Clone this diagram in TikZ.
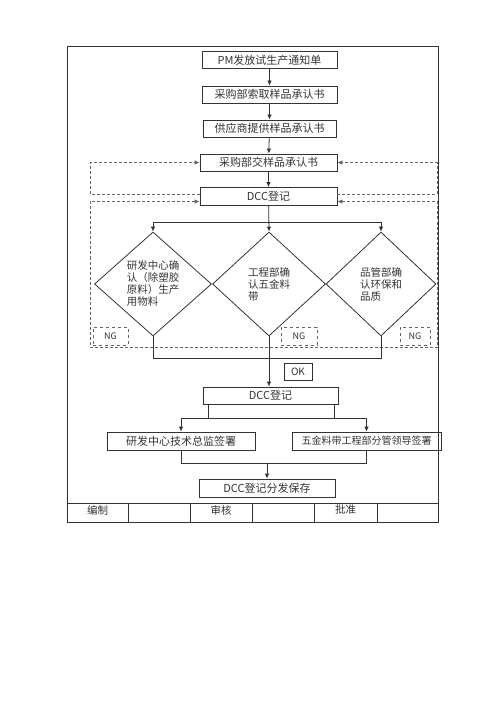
\documentclass[tikz,border=0pt]{standalone}
\usepackage{fontspec}
\setmainfont{Noto Sans CJK SC}
\usepackage{tikz}
\usetikzlibrary{shapes, arrows, arrows.meta, positioning, calc}
\tikzstyle{box} = [rectangle, draw=black!80, line width=0.8pt, minimum width=135pt, minimum height=17pt, inner sep=0pt, font=\fontsize{11}{13}\selectfont, text=black!80]
\tikzstyle{check} = [diamond, draw=black!80, line width=0.8pt, minimum width=117pt, minimum height=104pt, inner sep=0pt, align=left, font=\fontsize{10.5}{12}\selectfont, text=black!80]
\tikzstyle{ng} = [rectangle, draw=black!60, dashed, line width=0.8pt, minimum height=18pt, inner sep=0pt, font=\fontsize{9}{11}\selectfont, text=black!80]
\tikzstyle{arrow} = [draw=black!80, -{Latex[length=5pt, width=4.5pt]}, line width=0.8pt]
\tikzstyle{line} = [draw=black!80, line width=0.8pt]
\tikzstyle{loop} = [draw=black!60, dash pattern=on 3pt off 2pt, line width=0.8pt, >={Latex[length=5pt, width=4.5pt]}]

\begin{document}
\begin{tikzpicture}[x=1pt, y=-1pt]
    \useasboundingbox (0,0) rectangle (500,708);
    % frame and sign-off row
    \draw[line] (67,46) rectangle (438,522);
    \draw[line] (67,503) -- (438,503);
    \foreach \x in {128,190,252,314,377}
        \draw[line] (\x,503) -- (\x,522);
    \node (bianzhi) at (97.5,510) [font=\fontsize{10.5}{12}\selectfont, text=black!80] {编制};
    \node (shenhe) at (221,510) [font=\fontsize{10.5}{12}\selectfont, text=black!80] {审核};
    \node (pizhun) at (345.5,510) [font=\fontsize{10.5}{12}\selectfont, text=black!80] {批准};

    % main chain
    \node (pm) [box] at (269.5,60) {PM发放试生产通知单};
    \node (suoqu) [box] at (269.5,94.5) {采购部索取样品承认书};
    \node (gongying) [box, minimum width=133pt] at (269.5,128.5) {供应商提供样品承认书};
    \node (jiaoyang) [box, minimum width=137pt] at (268.5,162.5) {采购部交样品承认书};
    \node (dcc1) [box, minimum width=137pt, minimum height=18pt] at (268.5,196.5) {DCC登记};

    \draw [arrow] (pm) -- (suoqu);
    \draw [arrow] (suoqu) -- (gongying);
    \draw [arrow] (gongying) -- (jiaoyang);
    \draw [arrow] (jiaoyang) -- (dcc1);

    % three checks
    \node (rd) [check] at (153,284) {研发中心确\\认（除塑胶\\原料）生产\\用物料};
    \node (eng) [check, minimum width=113pt] at (269,284) {工程部确\\认五金料\\带};
    \node (qc) [check, minimum width=110pt] at (381,284) {品管部确\\认环保和\\品质};

    \coordinate (splitA) at (0,222);
    \draw [line] (rd.north |- splitA) -- (qc.north |- splitA);
    \draw [arrow] (rd.north |- splitA) -- (rd.north);
    \draw [arrow] (dcc1) -- (eng.north);
    \draw [arrow] (qc.north |- splitA) -- (qc.north);

    % NG loops
    \coordinate (loopL) at (90,0);
    \coordinate (loopR) at (437,0);
    \coordinate (loopB) at (0,347);
    \draw [loop, ->] ([yshift=2.5pt]dcc1.west) -- ([yshift=2.5pt]dcc1.west -| loopL) -- (jiaoyang.west -| loopL) -- (jiaoyang.west);
    \draw [loop, ->] ([yshift=2.5pt]dcc1.east) -- ([yshift=2.5pt]dcc1.east -| loopR) -- (jiaoyang.east -| loopR) -- (jiaoyang.east);
    \draw [loop, <->] ([yshift=-5pt]dcc1.west) -- ([yshift=-5pt]dcc1.west -| loopL) -- (loopL |- loopB) -- (loopR |- loopB) -- ([yshift=-5pt]dcc1.east -| loopR) -- ([yshift=-5pt]dcc1.east);

    \node (ng1) [ng, minimum width=35pt] at (110.5,336) {NG};
    \node (ng2) [ng, minimum width=36pt] at (299,336) {NG};
    \node (ng3) [ng, minimum width=30pt] at (415,336) {NG};

    % OK path
    \node (ok) [box, minimum width=28pt, font=\fontsize{10}{12}\selectfont] at (298,371.5) {OK};
    \node (dcc2) [box] at (270.5,395.5) {DCC登记};

    \coordinate (joinA) at (0,358);
    \draw [line] (rd.south) |- (qc.south |- joinA) -- (qc.south);
    \draw [arrow] (eng.south) -- (dcc2.north -| eng.south);

    % signatures
    \node (sigL) [box, minimum width=148pt, minimum height=18pt] at (181,441) {研发中心技术总监签署};
    \node (sigR) [box, minimum width=149pt, minimum height=18pt, font=\fontsize{10}{12}\selectfont] at (366.5,441) {五金料带工程部分管领导签署};

    \coordinate (splitB) at (0,418);
    \draw [line] ([xshift=-62.5pt]dcc2.south) -- ([xshift=-62.5pt]dcc2.south |- splitB);
    \draw [line] ([xshift=63.5pt]dcc2.south) -- ([xshift=63.5pt]dcc2.south |- splitB);
    \draw [line] (sigL.north |- splitB) -- (sigR.north |- splitB);
    \draw [arrow] (sigL.north |- splitB) -- (sigL.north);
    \draw [arrow] (sigR.north |- splitB) -- (sigR.north);

    \node (final) [box, minimum width=136pt, minimum height=18pt] at (267,488) {DCC登记分发保存};

    \coordinate (joinB) at (0,463);
    \draw [line] (sigL.south) |- (sigR.south |- joinB) -- (sigR.south);
    \draw [arrow] (final.north |- joinB) -- (final.north);
\end{tikzpicture}
\end{document}
